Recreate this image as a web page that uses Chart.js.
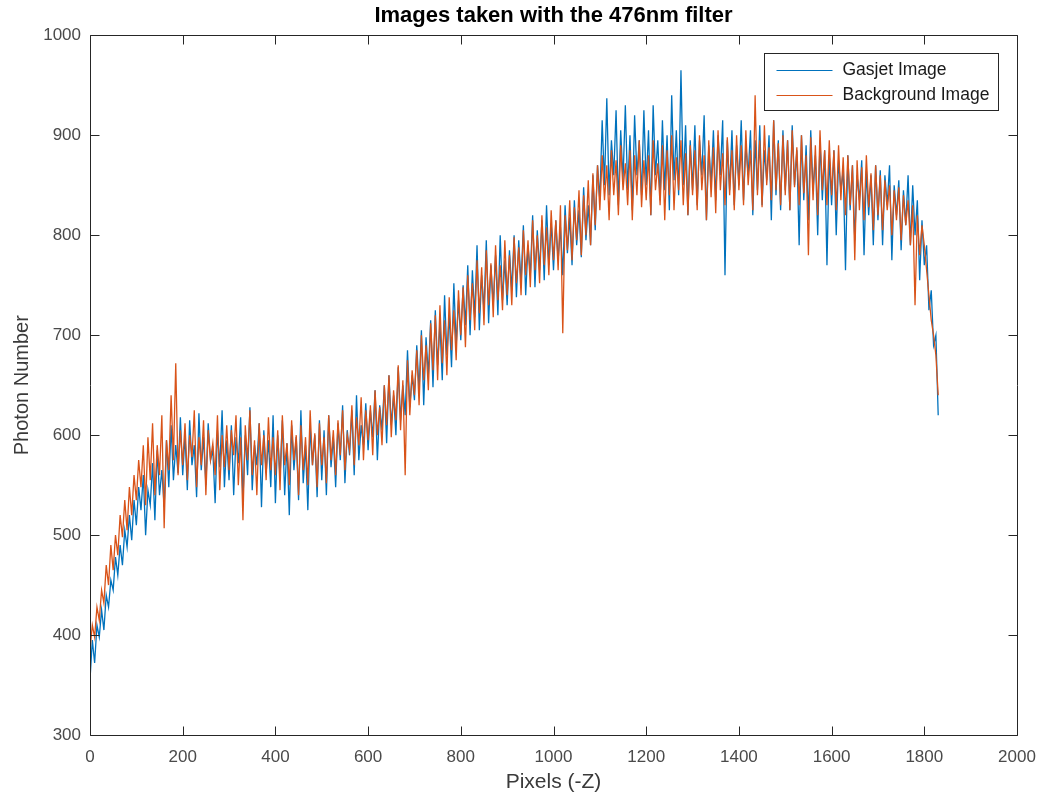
<!DOCTYPE html>
<html>
<head>
<meta charset="utf-8">
<script src="https://cdn.jsdelivr.net/npm/chart.js@4.4.1/dist/chart.umd.min.js"></script>
<style>
html,body{margin:0;padding:0;background:#ffffff;}
#wrap{width:1038px;height:798px;position:relative;}
</style>
</head>
<body>
<div id="wrap"><canvas id="c" width="1038" height="798"></canvas></div>
<script>
// ---- data ----
const pixels = [
  0,5,10,15,20,25,30,35,40,45,50,55,60,65,70,75,80,85,90,95,
  100,105,110,115,120,125,130,135,140,145,150,155,160,165,170,175,180,185,190,195,
  200,205,210,215,220,225,230,235,240,245,250,255,260,265,270,275,280,285,290,295,
  300,305,310,315,320,325,330,335,340,345,350,355,360,365,370,375,380,385,390,395,
  400,405,410,415,420,425,430,435,440,445,450,455,460,465,470,475,480,485,490,495,
  500,505,510,515,520,525,530,535,540,545,550,555,560,565,570,575,580,585,590,595,
  600,605,610,615,620,625,630,635,640,645,650,655,660,665,670,675,680,685,690,695,
  700,705,710,715,720,725,730,735,740,745,750,755,760,765,770,775,780,785,790,795,
  800,805,810,815,820,825,830,835,840,845,850,855,860,865,870,875,880,885,890,895,
  900,905,910,915,920,925,930,935,940,945,950,955,960,965,970,975,980,985,990,995,
  1000,1005,1010,1015,1020,1025,1030,1035,1040,1045,1050,1055,1060,1065,1070,1075,1080,1085,1090,1095,
  1100,1105,1110,1115,1120,1125,1130,1135,1140,1145,1150,1155,1160,1165,1170,1175,1180,1185,1190,1195,
  1200,1205,1210,1215,1220,1225,1230,1235,1240,1245,1250,1255,1260,1265,1270,1275,1280,1285,1290,1295,
  1300,1305,1310,1315,1320,1325,1330,1335,1340,1345,1350,1355,1360,1365,1370,1375,1380,1385,1390,1395,
  1400,1405,1410,1415,1420,1425,1430,1435,1440,1445,1450,1455,1460,1465,1470,1475,1480,1485,1490,1495,
  1500,1505,1510,1515,1520,1525,1530,1535,1540,1545,1550,1555,1560,1565,1570,1575,1580,1585,1590,1595,
  1600,1605,1610,1615,1620,1625,1630,1635,1640,1645,1650,1655,1660,1665,1670,1675,1680,1685,1690,1695,
  1700,1705,1710,1715,1720,1725,1730,1735,1740,1745,1750,1755,1760,1765,1770,1775,1780,1785,1790,1795,
  1800,1805,1810,1815,1820,1825,1830
];

const gasjetImage = [
  355,395,372,410,398,425,405,440,428,455,445,478,460,490,470,505,488,520,495,535,
  510,548,525,560,500,545,530,572,515,585,540,565,528,595,548,610,555,590,562,618,
  560,600,545,615,570,590,538,622,565,598,550,612,575,585,532,605,568,625,548,595,
  555,610,540,598,572,618,535,600,560,628,545,590,570,612,528,605,562,595,548,620,
  532,600,558,615,540,592,520,610,565,598,535,625,552,590,525,608,570,600,538,615,
  555,605,540,620,568,598,548,612,575,630,552,605,580,625,560,640,575,610,590,632,
  585,625,598,645,575,630,605,650,592,660,610,640,600,668,615,650,620,685,628,660,
  635,690,645,705,630,698,660,715,648,725,670,712,655,740,680,720,668,752,690,735,
  695,750,710,770,700,765,718,790,705,760,725,795,712,770,730,780,720,800,735,775,
  730,785,745,800,738,795,752,810,740,790,760,820,748,805,765,815,755,830,770,812,
  765,815,775,808,760,830,782,818,770,835,790,825,778,848,795,830,790,860,805,870,
  835,915,850,937,840,895,860,925,830,905,855,930,845,900,825,920,860,895,840,925,
  850,905,820,930,860,895,835,915,845,900,825,940,855,905,840,965,850,910,820,895,
  845,910,830,895,860,920,815,890,850,905,835,900,860,915,760,895,845,905,830,890,
  850,915,835,890,860,905,820,895,845,910,830,885,855,900,815,915,840,895,825,905,
  845,895,825,910,850,885,790,900,835,890,815,905,845,880,800,895,835,885,770,880,
  830,885,800,875,845,865,765,880,825,870,795,860,835,875,780,865,820,860,790,870,
  815,865,790,860,830,870,775,850,820,855,785,845,810,860,790,850,800,835,755,815,
  770,790,725,745,690,700,620
];

const backgroundImage = [
  385,410,398,428,415,445,432,470,450,490,465,500,480,520,498,535,505,548,520,560,
  535,575,548,590,530,598,555,612,540,590,560,620,507,595,565,640,575,672,560,605,
  570,612,555,600,578,625,548,598,570,615,540,605,575,592,560,620,545,600,568,610,
  565,605,580,620,550,598,515,610,575,625,560,595,540,612,570,600,555,618,565,598,
  560,605,545,620,570,592,550,615,575,600,540,610,565,598,550,625,570,602,548,612,
  570,598,552,620,575,605,560,615,580,625,565,600,585,630,570,618,590,638,575,625,
  595,630,580,645,600,628,590,650,610,660,598,645,615,670,605,655,560,675,620,665,
  640,685,630,700,655,690,645,712,665,720,655,730,672,715,660,738,685,725,675,745,
  700,748,688,760,715,752,705,775,722,768,710,785,730,772,718,790,735,770,725,795,
  740,780,730,798,752,788,740,805,760,795,748,815,765,800,752,820,770,808,760,825,
  775,815,765,830,702,820,785,835,775,828,795,845,780,840,800,855,790,862,810,870,
  825,880,835,870,815,885,840,875,820,890,845,872,830,885,815,880,840,895,828,875,
  835,880,820,895,845,872,830,890,815,885,840,900,825,878,845,895,830,882,820,890,
  840,885,825,900,845,880,815,895,838,888,822,905,845,882,830,898,840,885,825,900,
  845,890,830,905,850,885,825,940,840,895,828,910,850,888,835,915,845,892,830,900,
  840,895,825,905,848,888,830,900,842,880,780,898,835,890,820,905,845,885,830,895,
  840,885,825,890,835,878,820,880,830,870,775,875,825,868,815,880,828,862,805,870,
  820,860,805,855,825,850,800,845,815,848,795,840,810,835,790,830,730,820,780,810,
  790,765,740,715,700,680,640
];

const seriesNames = ['Gasjet Image', 'Background Image'];
const xTicks = [0,200,400,600,800,1000,1200,1400,1600,1800,2000];
const yTicks = [300,400,500,600,700,800,900,1000];

// ---- styling ----
const BLUE = '#0072BD';
const ORANGE = '#D95319';
const AXIS = '#262626';
const FONT = '"Liberation Sans", Arial, Helvetica, sans-serif';

const toPoints = (ys) => pixels.map((p, i) => ({x: p, y: ys[i]}));

const matlabAxes = {
  id: 'matlabAxes',
  afterDraw(chart) {
    const {ctx, chartArea: a, scales: {x, y}} = chart;
    ctx.save();
    ctx.strokeStyle = AXIS;
    ctx.lineWidth = 1;
    const L = Math.round(a.left) + 0.5, R = Math.round(a.right) + 0.5;
    const T = Math.round(a.top) + 0.5, B = Math.round(a.bottom) + 0.5;
    ctx.beginPath();
    ctx.rect(L, T, R - L, B - T);
    ctx.stroke();
    const len = 9;
    ctx.beginPath();
    xTicks.forEach(v => {
      const px = Math.round(x.getPixelForValue(v)) + 0.5;
      ctx.moveTo(px, B); ctx.lineTo(px, B - len);
      ctx.moveTo(px, T); ctx.lineTo(px, T + len);
    });
    yTicks.forEach(v => {
      const py = Math.round(y.getPixelForValue(v)) + 0.5;
      ctx.moveTo(L, py); ctx.lineTo(L + len, py);
      ctx.moveTo(R, py); ctx.lineTo(R - len, py);
    });
    ctx.stroke();

    // legend box (MATLAB style, inside the axes, north-east)
    const lx = Math.round(a.right) - 253 + 0.5;
    const ly = Math.round(a.top) + 18 + 0.5;
    const lw = 234, lh = 57;
    ctx.fillStyle = '#ffffff';
    ctx.fillRect(lx, ly, lw, lh);
    ctx.strokeStyle = AXIS;
    ctx.strokeRect(lx, ly, lw, lh);
    const colors = [BLUE, ORANGE];
    ctx.font = '17.5px ' + FONT;
    ctx.textBaseline = 'middle';
    ctx.textAlign = 'left';
    seriesNames.forEach((name, i) => {
      const yy = Math.round(ly + 16 + i * 25) + 0.5;
      ctx.strokeStyle = colors[i];
      ctx.lineWidth = 1;
      ctx.beginPath();
      ctx.moveTo(lx + 12, yy);
      ctx.lineTo(lx + 68, yy);
      ctx.stroke();
      ctx.fillStyle = '#1a1a1a';
      ctx.fillText(name, lx + 78, yy);
    });
    ctx.restore();
  }
};

new Chart(document.getElementById('c'), {
  type: 'line',
  data: {
    datasets: [
      {
        label: seriesNames[0],
        data: toPoints(gasjetImage),
        borderColor: BLUE,
        backgroundColor: BLUE,
        borderWidth: 1.3,
        pointRadius: 0,
        tension: 0,
        fill: false,
        order: 2
      },
      {
        label: seriesNames[1],
        data: toPoints(backgroundImage),
        borderColor: ORANGE,
        backgroundColor: ORANGE,
        borderWidth: 1.3,
        pointRadius: 0,
        tension: 0,
        fill: false,
        order: 1
      }
    ]
  },
  options: {
    responsive: false,
    animation: false,
    devicePixelRatio: 1,
    layout: {padding: {left: 0, right: 21, top: 0, bottom: 0}},
    plugins: {
      legend: {display: false},
      tooltip: {enabled: false},
      title: {
        display: true,
        fullSize: false,
        text: 'Images taken with the 476nm filter',
        color: '#000000',
        font: {family: FONT, size: 22, weight: 'bold'},
        padding: {top: 3, bottom: 6}
      }
    },
    scales: {
      x: {
        type: 'linear',
        min: 0,
        max: 2000,
        afterBuildTicks: (s) => { s.ticks = xTicks.map(v => ({value: v})); },
        afterFit: (s) => { s.height = 63; s.paddingLeft = 0; s.paddingRight = 0; },
        grid: {display: false, drawTicks: false},
        border: {display: false},
        ticks: {
          color: '#4a4a4a',
          font: {family: FONT, size: 17},
          padding: 12,
          maxRotation: 0,
          autoSkip: false,
          callback: (v) => String(v)
        },
        title: {
          display: true,
          text: 'Pixels (-Z)',
          color: '#3a3a3a',
          font: {family: FONT, size: 21},
          padding: {top: 0, bottom: 3}
        }
      },
      y: {
        type: 'linear',
        min: 300,
        max: 1000,
        afterBuildTicks: (s) => { s.ticks = yTicks.map(v => ({value: v})); },
        afterFit: (s) => { s.width = 90; s.paddingTop = 0; s.paddingBottom = 0; },
        grid: {display: false, drawTicks: false},
        border: {display: false},
        ticks: {
          color: '#4a4a4a',
          font: {family: FONT, size: 17},
          padding: 9,
          autoSkip: false,
          callback: (v) => String(v)
        },
        title: {
          display: true,
          text: 'Photon Number',
          color: '#3a3a3a',
          font: {family: FONT, size: 20},
          padding: {top: 10, bottom: 0}
        }
      }
    }
  },
  plugins: [matlabAxes]
});
</script>
</body>
</html>
